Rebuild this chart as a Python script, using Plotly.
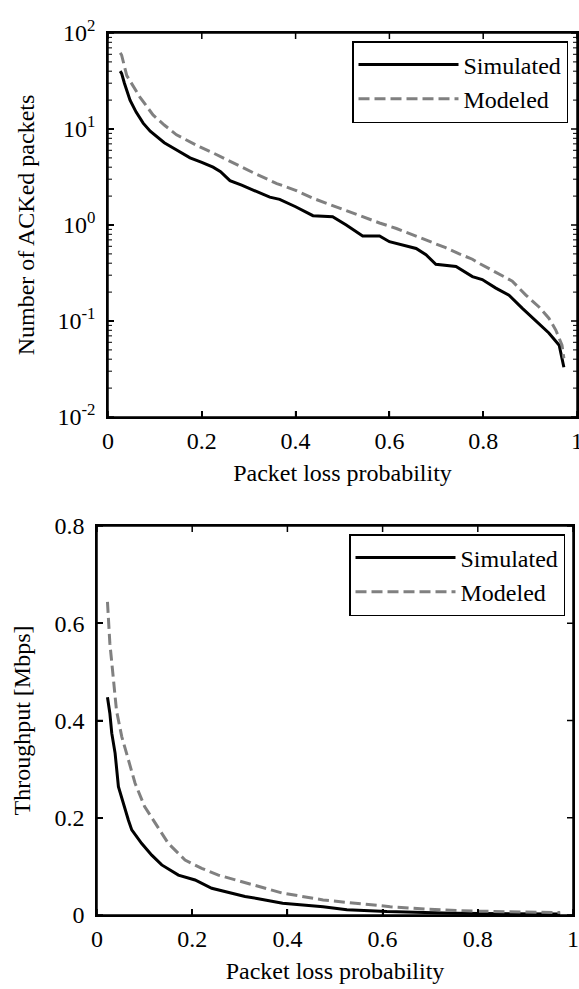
import plotly.graph_objects as go
from plotly.subplots import make_subplots

# Top panel: number of ACKed packets (log scale)
ack_sim_x = [0.026, 0.029, 0.035, 0.047, 0.06, 0.075, 0.09, 0.104, 0.12, 0.14, 0.16, 0.175,
             0.2, 0.224, 0.24, 0.26, 0.285, 0.31, 0.345, 0.366, 0.40, 0.437, 0.479, 0.508,
             0.543, 0.579, 0.6, 0.657, 0.678, 0.699, 0.742, 0.777, 0.798, 0.827, 0.855,
             0.883, 0.912, 0.94, 0.962, 0.972]
ack_sim_y = [40, 38, 30, 20, 15, 11.5, 9.5, 8.3, 7.2, 6.3, 5.5, 5.0,
             4.5, 4.0, 3.6, 2.9, 2.6, 2.3, 1.95, 1.85, 1.55, 1.25, 1.22, 1.0,
             0.77, 0.77, 0.67, 0.57, 0.49, 0.39, 0.37, 0.29, 0.27, 0.22, 0.186,
             0.136, 0.10, 0.075, 0.056, 0.033]

ack_mod_x = [0.026, 0.029, 0.04, 0.055, 0.068, 0.096, 0.12, 0.146, 0.17, 0.196, 0.225, 0.253,
             0.28, 0.31, 0.36, 0.40, 0.437, 0.47, 0.508, 0.545, 0.579, 0.615, 0.65, 0.685,
             0.72, 0.749, 0.777, 0.791, 0.834, 0.862, 0.891, 0.919, 0.94, 0.955, 0.968, 0.972]
ack_mod_y = [62, 59, 36, 27, 21.5, 14, 11, 8.7, 7.5, 6.5, 5.6, 4.8,
             4.1, 3.5, 2.7, 2.3, 1.9, 1.65, 1.4, 1.2, 1.05, 0.92, 0.79, 0.68,
             0.58, 0.5, 0.44, 0.40, 0.31, 0.26, 0.186, 0.14, 0.107, 0.08, 0.056, 0.041]

log_tickvals = [0.01, 0.1, 1, 10, 100]
log_ticktext = ["10<sup>-2</sup>", "10<sup>-1</sup>", "10<sup>0</sup>", "10<sup>1</sup>", "10<sup>2</sup>"]
x_tickvals = [0, 0.2, 0.4, 0.6, 0.8, 1]
x_ticktext = ["0", "0.2", "0.4", "0.6", "0.8", "1"]
thr_tickvals = [0, 0.2, 0.4, 0.6, 0.8]

# Bottom panel: throughput [Mbps]
thr_sim_x = [0.022, 0.027, 0.031, 0.038, 0.045, 0.055, 0.066, 0.073, 0.094, 0.115, 0.136,
             0.171, 0.206, 0.241, 0.276, 0.311, 0.336, 0.39, 0.475, 0.525, 0.609, 0.748, 0.973]
thr_sim_y = [0.448, 0.415, 0.374, 0.333, 0.264, 0.23, 0.195, 0.175, 0.147, 0.123, 0.103,
             0.082, 0.072, 0.055, 0.046, 0.038, 0.034, 0.024, 0.017, 0.011, 0.007, 0.0035, 0.002]

thr_mod_x = [0.022, 0.027, 0.034, 0.041, 0.052, 0.066, 0.08, 0.1, 0.122, 0.15, 0.185,
             0.22, 0.255, 0.304, 0.342, 0.39, 0.475, 0.546, 0.616, 0.693, 0.79, 0.973]
thr_mod_y = [0.644, 0.559, 0.49, 0.42, 0.367, 0.319, 0.271, 0.223, 0.189, 0.147, 0.113,
             0.096, 0.082, 0.068, 0.058, 0.045, 0.031, 0.024, 0.017, 0.012, 0.008, 0.005]

W, H = 579, 989
FONT = "Liberation Serif"
tfont = dict(family=FONT, size=24, color="black")

sim_line = dict(color="black", width=3)
mod_line = dict(color="#808080", width=3, dash="11px,5px")

fig = make_subplots(rows=2, cols=1)
fig.add_trace(go.Scatter(x=ack_sim_x, y=ack_sim_y, mode="lines", name="Simulated",
                         line=sim_line, legend="legend"), row=1, col=1)
fig.add_trace(go.Scatter(x=ack_mod_x, y=ack_mod_y, mode="lines", name="Modeled",
                         line=mod_line, legend="legend"), row=1, col=1)
fig.add_trace(go.Scatter(x=thr_sim_x, y=thr_sim_y, mode="lines", name="Simulated",
                         line=sim_line, legend="legend2"), row=2, col=1)
fig.add_trace(go.Scatter(x=thr_mod_x, y=thr_mod_y, mode="lines", name="Modeled",
                         line=mod_line, legend="legend2"), row=2, col=1)

fig.update_xaxes(showline=True, linecolor="black", linewidth=1.5, mirror=True,
                 ticks="inside", ticklen=6, tickwidth=1.5, tickcolor="black",
                 showgrid=False, zeroline=False, automargin=False,
                 range=[0, 1], tickmode="array", tickvals=x_tickvals, ticktext=x_ticktext,
                 ticklabelstandoff=1, ticklabeloverflow="allow", tickfont=tfont,
                 title=dict(text="Packet loss probability", standoff=12, font=tfont))
fig.update_yaxes(showline=True, linecolor="black", linewidth=1.5, mirror=True,
                 ticks="inside", ticklen=6, tickwidth=1.5, tickcolor="black",
                 showgrid=False, zeroline=False, automargin=False, ticklabelstandoff=6,
                 tickfont=tfont)

fig.update_xaxes(domain=[108 / W, 577 / W], row=1, col=1)
fig.update_xaxes(domain=[97 / W, 573 / W], row=2, col=1)
fig.update_yaxes(domain=[1 - 417 / H, 1 - 33 / H], type="log", range=[-2, 2],
                 tickmode="array", tickvals=log_tickvals, ticktext=log_ticktext,
                 title=dict(text="Number of ACKed packets", standoff=16, font=tfont),
                 row=1, col=1)
fig.update_yaxes(domain=[1 - 915 / H, 1 - 526 / H], range=[0, 0.8],
                 tickmode="array", tickvals=thr_tickvals,
                 title=dict(text="Throughput [Mbps]", standoff=17, font=tfont),
                 row=2, col=1)

# frame and inward ticks on all four sides, placed from the tick lists
minor_vals = [m * 10.0 ** e for e in range(-2, 2) for m in range(2, 10)]
tick_line = dict(color="black", width=1.5)
for xr, yr in [("x", "y"), ("x2", "y2")]:
    fig.add_shape(type="rect", xref=xr + " domain", yref=yr + " domain",
                  x0=0, x1=1, y0=0, y1=1, line=tick_line, layer="above")
    for v in x_tickvals:
        for anchor, sign in [(0, 1), (1, -1)]:
            fig.add_shape(type="line", xref=xr, yref=yr + " domain", x0=v, x1=v,
                          ysizemode="pixel", yanchor=anchor, y0=0, y1=6 * sign,
                          line=tick_line, layer="above")
y_ticks = [("y", v, 6) for v in log_tickvals] + [("y", v, 4) for v in minor_vals] \
    + [("y2", v, 6) for v in thr_tickvals]
for yr, v, ln in y_ticks:
    xr = "x" if yr == "y" else "x2"
    for anchor, sign in [(0, 1), (1, -1)]:
        fig.add_shape(type="line", xref=xr + " domain", yref=yr, y0=v, y1=v,
                      xsizemode="pixel", xanchor=anchor, x0=0, x1=ln * sign,
                      line=dict(color="black", width=1.5 if ln == 6 else 1), layer="above")

legend_style = dict(xanchor="right", yanchor="top", bgcolor="white",
                    bordercolor="black", borderwidth=1.5, itemwidth=100, font=tfont)

fig.update_layout(
    width=W, height=H,
    margin=dict(l=0, r=0, t=0, b=0),
    paper_bgcolor="white", plot_bgcolor="white",
    font=tfont,
    legend=dict(legend_style, x=568 / W, y=1 - 41 / H),
    legend2=dict(legend_style, x=565 / W, y=1 - 534 / H),
)

fig.write_html("out.html", config={"displayModeBar": False},
               post_script="document.body.style.margin='0px';")
